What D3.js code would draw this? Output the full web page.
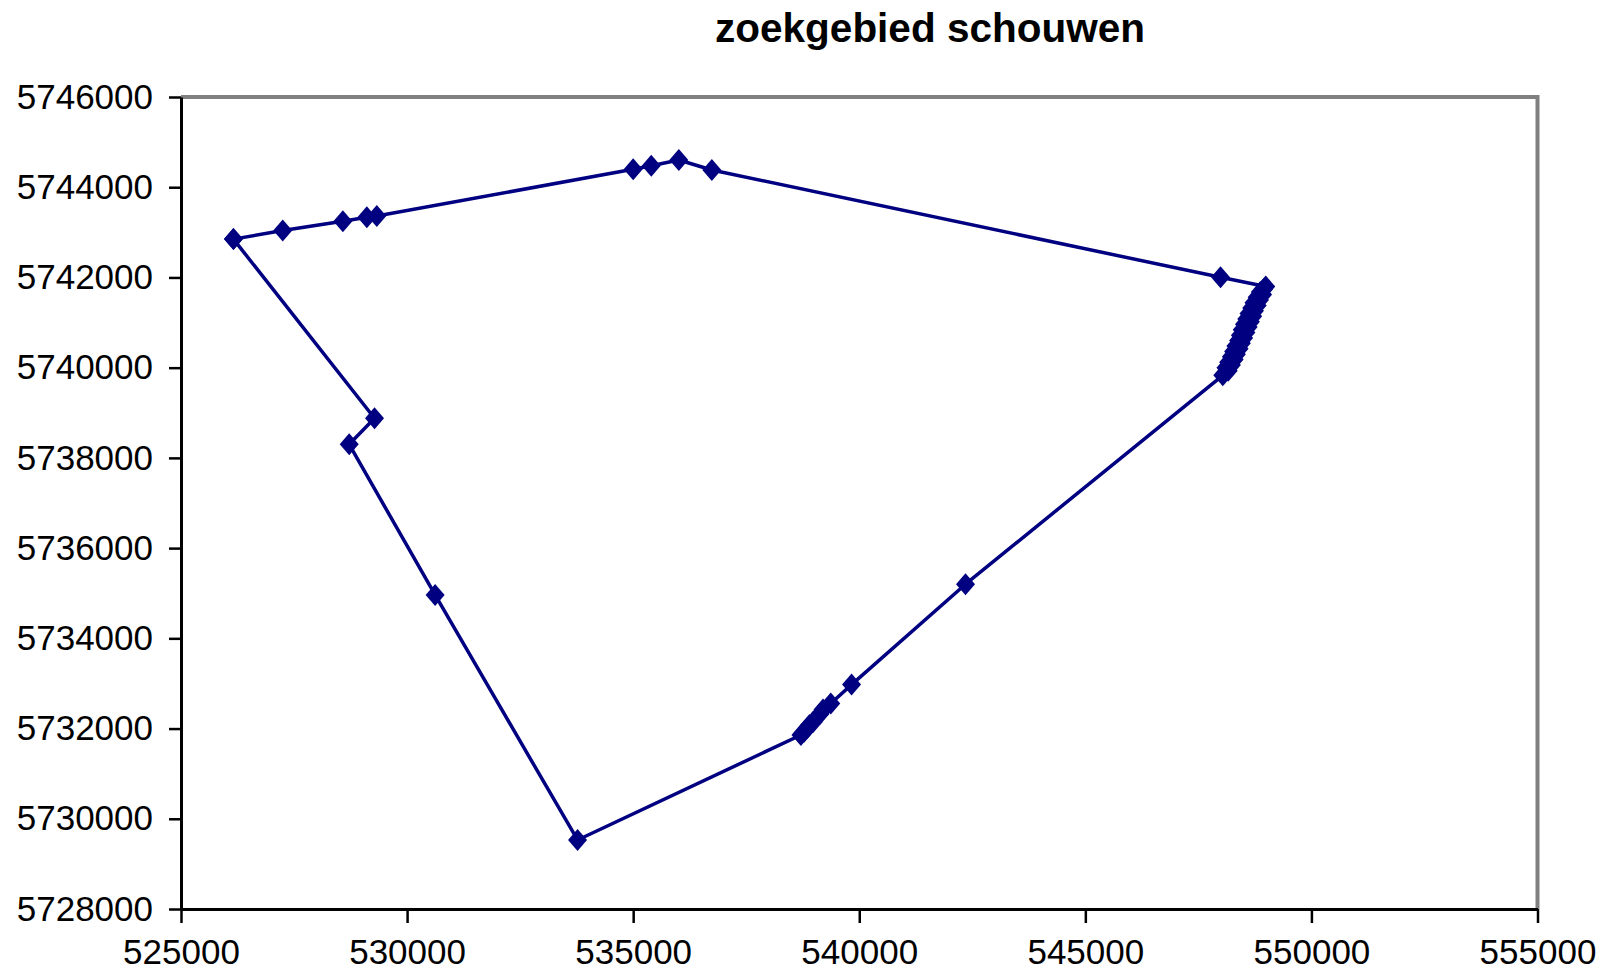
<!DOCTYPE html>
<html><head><meta charset="utf-8">
<script src="https://cdn.jsdelivr.net/npm/d3@7"></script>
<style>body{margin:0;background:#fff;overflow:hidden}</style>
</head><body><svg id="c" width="1607" height="973"></svg>
<script>
const title = "zoekgebied schouwen";
const xTicks = [525000, 530000, 535000, 540000, 545000, 550000, 555000];
const yTicks = [5728000, 5730000, 5732000, 5734000, 5736000, 5738000, 5740000, 5742000, 5744000, 5746000];

// polygon vertices (x = easting, y = northing), in drawing order
const xValues = [526160, 527250, 528580, 529110, 529330, 535000, 535400, 536010, 536740, 547990,
  548990, 548940, 548870, 548920, 548800, 548850, 548730, 548800, 548680, 548740, 548620, 548700,
  548570, 548650, 548520, 548600, 548470, 548550, 548430, 548500, 548390, 548450, 548330, 548400,
  548280, 548340, 548230, 548290, 548170, 548230, 548110, 548160, 548040,
  542350, 539830, 539370, 539200, 539130, 538980, 538900, 538850, 538780, 538710,
  533770, 530620, 528720, 529280, 526160];
const yValues = [5742850, 5743040, 5743245, 5743333, 5743362, 5744397, 5744477, 5744603, 5744382, 5742003,
  5741800, 5741740, 5741680, 5741620, 5741560, 5741500, 5741440, 5741380, 5741320, 5741260, 5741200, 5741140,
  5741080, 5741020, 5740960, 5740900, 5740840, 5740780, 5740720, 5740660, 5740600, 5740540, 5740480, 5740420,
  5740360, 5740300, 5740240, 5740180, 5740120, 5740060, 5740000, 5739930, 5739830,
  5735200, 5732975, 5732555, 5732420, 5732323, 5732146, 5732080, 5732013, 5731930, 5731857,
  5729530, 5734961, 5738301, 5738878, 5742850];

const svg = d3.select("#c");
const x = d3.scaleLinear().domain([525000, 555000]).range([181, 1537.5]);
const y = d3.scaleLinear().domain([5728000, 5746000]).range([909, 97]);
const font = "'Liberation Sans', Arial, sans-serif";

svg.append("text").attr("x", 930).attr("y", 42).attr("text-anchor", "middle")
  .attr("font-family", font).attr("font-weight", "bold").attr("font-size", 40.5).attr("fill", "#000").text(title);

// plot border (top/right grey)
svg.append("path").attr("d", `M${x(525000)},${y(5746000)}H${x(555000)}V${y(5728000)}`)
  .attr("fill", "none").attr("stroke", "#808080").attr("stroke-width", 4);

const yAxis = svg.append("g").attr("transform", `translate(${x(525000)},0)`)
  .call(d3.axisLeft(y).tickValues(yTicks).tickFormat(d3.format("d")).tickSize(12).tickPadding(16).tickSizeOuter(0));
const xAxis = svg.append("g").attr("transform", `translate(0,${y(5728000)})`)
  .call(d3.axisBottom(x).tickValues(xTicks).tickFormat(d3.format("d")).tickSize(14).tickPadding(16).tickSizeOuter(0));
[yAxis, xAxis].forEach(g => {
  g.select(".domain").attr("stroke", "#000").attr("stroke-width", 3);
  g.selectAll(".tick line").attr("stroke", "#000").attr("stroke-width", 2.5);
  g.selectAll(".tick text").attr("font-family", font).attr("font-size", 35).attr("fill", "#000");
});
xAxis.selectAll(".tick text").attr("dy", "0.71em");

const pts = xValues.map((v, i) => [v, yValues[i]]);
svg.append("path").datum(pts)
  .attr("d", d3.line().x(d => x(d[0])).y(d => y(d[1])))
  .attr("fill", "none").attr("stroke", "#000080").attr("stroke-width", 3.5).attr("stroke-linejoin", "round");

svg.append("g").selectAll("path").data(pts).join("path")
  .attr("transform", d => `translate(${x(d[0])},${y(d[1])})`)
  .attr("d", "M0,-11L9.5,0L0,11L-9.5,0Z")
  .attr("fill", "#000080");
</script>
</body></html>
